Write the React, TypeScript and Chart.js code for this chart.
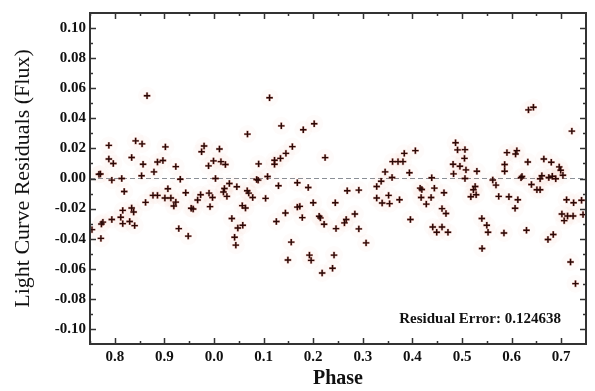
import React, { useEffect, useRef } from "react";
import { Chart, registerables } from "chart.js";

Chart.register(...registerables);

// Phase values on a continuous axis (-0.25 .. 0.75); displayed as phase mod 1
const PHASE = [
  -0.135, -0.212, -0.158, -0.145, -0.098, -0.212, -0.203, -0.166, -0.143, -0.114,
  -0.103, -0.121, -0.232, -0.229, -0.146, -0.206, -0.186, -0.181, -0.138, -0.123,
  -0.114, -0.099, -0.093, -0.087, -0.184, -0.166, -0.162, -0.206, -0.188, -0.184,
  -0.17, -0.16, -0.227, -0.224, -0.246, -0.228,
  0.0675, -0.02, -0.025, 0.011, -0.077, -0.011, -0.001, 0.014, 0.023, -0.068,
  0.003, 0.031, 0.046, 0.021, 0.019, 0.026, -0.057, -0.027, -0.01, -0.003,
  -0.033, -0.077, -0.081, -0.046, -0.042, -0.008, 0.067, 0.07, 0.078, 0.057,
  0.0635, 0.036, 0.048, 0.058, -0.071, -0.052, 0.0415, 0.044,
  0.112, 0.1357, 0.18, 0.202, 0.158, 0.145, 0.134, 0.122, 0.122, 0.09,
  0.224, 0.086, 0.089, 0.108, 0.13, 0.168, 0.19, 0.104, 0.2, 0.2445,
  0.168, 0.173, 0.144, 0.178, 0.212, 0.2145, 0.222, 0.1257, 0.246, 0.1557,
  0.149, 0.1924, 0.1958, 0.218, 0.239, 0.242,
  0.406, 0.3836, 0.36, 0.371, 0.381, 0.345, 0.394, 0.359, 0.337, 0.328,
  0.2686, 0.292, 0.328, 0.339, 0.352, 0.354, 0.374, 0.284, 0.2665, 0.263,
  0.292, 0.396, 0.3066,
  0.487, 0.491, 0.506, 0.505, 0.482, 0.4958, 0.508, 0.53, 0.483, 0.439,
  0.506, 0.4156, 0.419, 0.4443, 0.4637, 0.5265, 0.523, 0.5285, 0.5178, 0.4176,
  0.4377, 0.428, 0.4597, 0.4677, 0.54, 0.55, 0.5525, 0.441, 0.449, 0.4597,
  0.4717, 0.5405, 0.562,
  0.634, 0.644, 0.7215, 0.5906, 0.6106, 0.608, 0.586, 0.586, 0.6327, 0.665,
  0.68, 0.696, 0.699, 0.621, 0.619, 0.661, 0.6575, 0.675, 0.682, 0.689,
  0.7035, 0.64, 0.651, 0.6575, 0.5685, 0.574, 0.5946, 0.6126, 0.607, 0.7108,
  0.725, 0.741, 0.7014, 0.7128, 0.724, 0.706, 0.744, 0.5846, 0.63, 0.6733,
  0.684, 0.7188, 0.7288,
];

const RESIDUAL = [
  0.055, 0.022, 0.025, 0.023, 0.021, 0.013, 0.01, 0.014, 0.0095, 0.011,
  0.012, 0.0044, 0.0028, 0.003, 0.0018, -0.0011, 0.0, -0.0086, -0.0159, -0.0112,
  -0.0112, -0.013, -0.0068, -0.013, -0.0212, -0.0196, -0.0223, -0.0273, -0.0258, -0.03,
  -0.0286, -0.0313, -0.0302, -0.029, -0.034, -0.0398,
  0.0295, 0.0216, 0.0178, 0.0196, 0.0079, 0.0084, 0.0117, 0.0112, 0.0093, -0.0005,
  0.0, -0.0033, -0.0055, -0.0066, -0.009, -0.0119, -0.0095, -0.0108, -0.0097, -0.0126,
  -0.0143, -0.0157, -0.0183, -0.0198, -0.0203, -0.0187, -0.0081, -0.0097, -0.0126, -0.018,
  -0.0196, -0.0266, -0.0329, -0.0311, -0.0333, -0.0383, -0.039, -0.0443,
  0.0537, 0.035, 0.0324, 0.0364, 0.0212, 0.0167, 0.0134, 0.0121, 0.0095, 0.0097,
  0.0139, -0.0007, -0.0011, 0.0013, -0.0048, -0.0028, -0.006, -0.0132, -0.0161, -0.0161,
  -0.019, -0.0185, -0.0229, -0.026, -0.0251, -0.0262, -0.0304, -0.0286, -0.0333, -0.0423,
  -0.0542, -0.0509, -0.0544, -0.0628, -0.0597, -0.0509,
  0.0185, 0.0167, 0.0112, 0.0112, 0.0112, 0.0044, 0.0038, 0.0007, -0.0018, -0.0053,
  -0.0081, -0.0077, -0.013, -0.0163, -0.0112, -0.0167, -0.0141, -0.0236, -0.0273, -0.0295,
  -0.0335, -0.0273, -0.0428,
  0.0238, 0.019, 0.0192, 0.0134, 0.0095, 0.0081, 0.0057, 0.0048, 0.0031, 0.0005,
  0.0, -0.0064, -0.0073, -0.0064, -0.0095, -0.0053, -0.0075, -0.0108, -0.0121, -0.0126,
  -0.0126, -0.017, -0.02, -0.0233, -0.0266, -0.0311, -0.0357, -0.0322, -0.0357, -0.0322,
  -0.0357, -0.0465, -0.001,
  0.0456, 0.0474, 0.0315, 0.0172, 0.0185, 0.0163, 0.0093, 0.0048, 0.011, 0.013,
  0.0108, 0.0077, 0.0055, 0.0013, 0.0005, 0.0018, -0.0002, 0.0007, 0.0015, -0.0002,
  0.0022, -0.004, -0.0075, -0.0075, -0.0044, -0.0119, -0.0121, -0.0141, -0.0198, -0.0141,
  -0.0161, -0.0145, -0.0236, -0.0249, -0.0249, -0.028, -0.024, -0.0362, -0.0344, -0.0405,
  -0.0372, -0.0555, -0.0699,
];

const X_RANGE = [-0.25, 0.75];
const Y_RANGE = [-0.11, 0.11];
const X_TICKS = [-0.2, -0.1, 0, 0.1, 0.2, 0.3, 0.4, 0.5, 0.6, 0.7];
const X_TICK_LABELS = ["0.8", "0.9", "0.0", "0.1", "0.2", "0.3", "0.4", "0.5", "0.6", "0.7"];
const Y_TICKS = [-0.1, -0.08, -0.06, -0.04, -0.02, 0, 0.02, 0.04, 0.06, 0.08, 0.1];
const Y_TICK_LABELS = ["-0.10", "-0.08", "-0.06", "-0.04", "-0.02", "0.00", "0.02", "0.04", "0.06", "0.08", "0.10"];
const X_TITLE = "Phase";
const Y_TITLE = "Light Curve Residuals (Flux)";
const RESIDUAL_ERROR = "Residual Error: 0.124638";

const SERIF = "'Liberation Serif', 'Times New Roman', serif";

const labelFor = (ticks: number[], labels: string[], v: number) => {
  const i = ticks.findIndex((t) => Math.abs(t - v) < 1e-6);
  return i >= 0 ? labels[i] : "";
};

const framePlugin = {
  id: "frameTicks",
  afterDraw(chart: any) {
    const { ctx, chartArea: a, scales } = chart;
    const xs = scales.x;
    const ys = scales.y;
    ctx.save();
    ctx.strokeStyle = "#333";
    ctx.lineWidth = 1.5;
    const seg = (x1: number, y1: number, x2: number, y2: number) => {
      ctx.beginPath();
      ctx.moveTo(x1, y1);
      ctx.lineTo(x2, y2);
      ctx.stroke();
    };
    const xTick = (v: number, len: number) => {
      const p = Math.round(xs.getPixelForValue(v)) + 0.5;
      seg(p, a.bottom, p, a.bottom - len);
      seg(p, a.top, p, a.top + len);
    };
    const yTick = (v: number, len: number) => {
      const p = Math.round(ys.getPixelForValue(v)) + 0.5;
      seg(a.left, p, a.left + len, p);
      seg(a.right, p, a.right - len, p);
    };
    X_TICKS.forEach((v) => {
      xTick(v, 6);
      if (v + 0.05 < X_RANGE[1] - 1e-6) xTick(v + 0.05, 3);
    });
    xTick(X_TICKS[0] - 0.05, 3);
    Y_TICKS.forEach((v) => {
      yTick(v, 6);
      if (v + 0.01 < Y_RANGE[1] - 1e-6) yTick(v + 0.01, 3);
    });
    ctx.lineWidth = 2;
    ctx.strokeRect(a.left, a.top, a.right - a.left, a.bottom - a.top);
    ctx.fillStyle = "#111";
    ctx.font = `bold 15px ${SERIF}`;
    ctx.textAlign = "right";
    ctx.textBaseline = "alphabetic";
    ctx.fillText(RESIDUAL_ERROR, a.right - 25, a.bottom - 21);
    ctx.restore();
  },
};

export default function App() {
  const ref = useRef<HTMLCanvasElement | null>(null);
  useEffect(() => {
    document.body.style.margin = "0";
    const points = PHASE.map((x, i) => ({ x, y: RESIDUAL[i] }));
    const chart = new Chart(ref.current as HTMLCanvasElement, {
      type: "scatter",
      data: {
        datasets: [
          {
            type: "line",
            data: [
              { x: X_RANGE[0], y: 0 },
              { x: X_RANGE[1], y: 0 },
            ],
            borderColor: "#8a8f96",
            borderWidth: 1,
            borderDash: [5, 3],
            pointRadius: 0,
            order: 5,
          } as any,
          {
            data: points,
            pointStyle: "circle",
            pointRadius: 9,
            backgroundColor: "rgba(235,130,110,0.03)",
            borderWidth: 0,
            order: 4,
          },
          {
            data: points,
            pointStyle: "cross",
            pointRadius: 3.5,
            borderColor: "rgba(170,40,20,0.35)",
            borderWidth: 2.4,
            order: 2,
          },
          {
            data: points,
            pointStyle: "cross",
            pointRadius: 3.2,
            borderColor: "#2a0806",
            borderWidth: 1.4,
            order: 1,
          },
        ],
      },
      options: {
        responsive: false,
        animation: false,
        devicePixelRatio: 1,
        layout: { padding: { top: 10, right: 8, left: 0, bottom: 0 } },
        plugins: { legend: { display: false }, tooltip: { enabled: false } },
        scales: {
          x: {
            type: "linear",
            min: X_RANGE[0],
            max: X_RANGE[1],
            afterBuildTicks: (s: any) => {
              s.ticks = X_TICKS.map((value) => ({ value }));
            },
            afterFit: (s: any) => {
              s.height = 47;
            },
            grid: { display: false, drawTicks: false },
            border: { display: false },
            ticks: {
              autoSkip: false,
              maxRotation: 0,
              padding: 4,
              color: "#111",
              font: { family: SERIF, size: 15, weight: "bold" },
              callback: (v: any) => labelFor(X_TICKS, X_TICK_LABELS, Number(v)),
            },
            title: {
              display: true,
              text: X_TITLE,
              color: "#111",
              font: { family: SERIF, size: 20, weight: "bold" },
              padding: { top: 0, bottom: 0 },
            },
          },
          y: {
            type: "linear",
            min: Y_RANGE[0],
            max: Y_RANGE[1],
            afterBuildTicks: (s: any) => {
              s.ticks = Y_TICKS.map((value) => ({ value }));
            },
            afterFit: (s: any) => {
              s.width = 90;
            },
            grid: { display: false, drawTicks: false },
            border: { display: false },
            ticks: {
              autoSkip: false,
              padding: 4,
              color: "#111",
              font: { family: SERIF, size: 15, weight: "bold" },
              callback: (v: any) => labelFor(Y_TICKS, Y_TICK_LABELS, Number(v)),
            },
            title: {
              display: true,
              text: Y_TITLE,
              color: "#111",
              font: { family: SERIF, size: 22, weight: "normal" },
              padding: { top: 10, bottom: 0 },
            },
          },
        },
      },
      plugins: [framePlugin],
    } as any);
    return () => chart.destroy();
  }, []);
  return (
    <div style={{ position: "absolute", left: 0, top: 0, width: 595, height: 391, background: "#fff" }}>
      <canvas ref={ref} width={595} height={391} style={{ display: "block" }} />
    </div>
  );
}
